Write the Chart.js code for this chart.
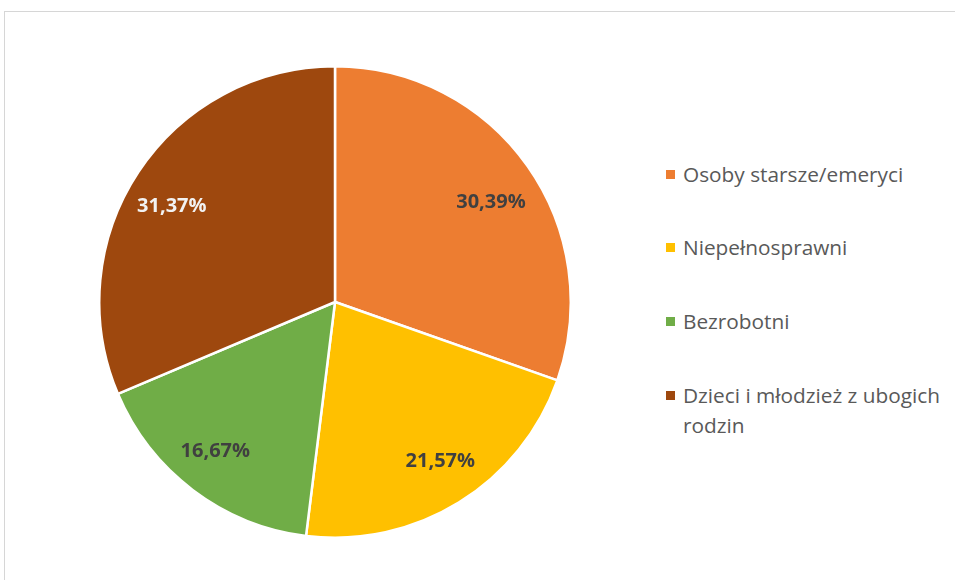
<!DOCTYPE html>
<html>
<head>
<meta charset="utf-8">
<script src="https://cdn.jsdelivr.net/npm/chart.js@4/dist/chart.umd.min.js"></script>
<style>
  html, body { margin: 0; padding: 0; background: #fff; width: 955px; height: 580px; overflow: hidden; }
  #frame { position: absolute; left: 4px; top: 11px; width: 1000px; height: 700px; border: 1.5px solid #d6d6d6; box-sizing: border-box; }
  #pieBox { position: absolute; left: 98px; top: 65px; width: 474px; height: 474px; }
  #legend { position: absolute; left: 666px; top: 0; font-family: "Open Sans", "Liberation Sans", sans-serif; font-size: 20.8px; color: #595959; }
  .item { position: absolute; left: 0; width: 289px; }
  .sw { position: absolute; left: 0; width: 9px; height: 9px; }
  .tx { position: absolute; left: 17px; line-height: 30px; white-space: nowrap; }
</style>
</head>
<body>
<div id="frame"></div>
<div id="pieBox"><canvas id="c"></canvas></div>
<div id="legend"></div>
<script>
const categories = ["Osoby starsze/emeryci", "Niepełnosprawni", "Bezrobotni", "Dzieci i młodzież z ubogich rodzin"];
const legendLines = [["Osoby starsze/emeryci"], ["Niepełnosprawni"], ["Bezrobotni"], ["Dzieci i młodzież z ubogich", "rodzin"]];
const values = [30.39, 21.57, 16.67, 31.37];
const valueLabels = ["30,39%", "21,57%", "16,67%", "31,37%"];
const colors = ["#ED7D31", "#FFC000", "#70AD47", "#9E480E"];
const labelColors = ["#404040", "#404040", "#404040", "#F2F2F2"];

const labelPlugin = {
  id: 'sliceLabels',
  afterDatasetsDraw(chart, args, opts) {
    const ctx = chart.ctx;
    const meta = chart.getDatasetMeta(0);
    ctx.save();
    ctx.font = 'bold 20px "Open Sans", "Liberation Sans", sans-serif';
    ctx.textAlign = 'center';
    ctx.textBaseline = 'middle';
    meta.data.forEach((arc, i) => {
      const p = arc.getProps(['x', 'y', 'startAngle', 'endAngle', 'outerRadius'], true);
      const a = (p.startAngle + p.endAngle) / 2;
      const r = p.outerRadius * opts.radiusFraction;
      const nudge = opts.nudge[i] || [0, 0];
      ctx.fillStyle = labelColors[i];
      ctx.fillText(valueLabels[i], p.x + Math.cos(a) * r + nudge[0], p.y + Math.sin(a) * r + nudge[1]);
    });
    ctx.restore();
  }
};

new Chart(document.getElementById('c'), {
  type: 'pie',
  data: {
    labels: categories,
    datasets: [{
      data: values,
      backgroundColor: colors,
      borderColor: '#ffffff',
      borderWidth: 2.5
    }]
  },
  options: {
    responsive: true,
    maintainAspectRatio: false,
    animation: false,
    layout: { padding: 0 },
    plugins: {
      legend: { display: false },
      tooltip: { enabled: false },
      sliceLabels: { radiusFraction: 0.8, nudge: [[2, 9], [6, -1], [-6, -1], [-6, 8.5]] }
    }
  },
  plugins: [labelPlugin]
});

// legend built from the data arrays
const legendTops = [174, 247, 321, 395];
const lg = document.getElementById('legend');
categories.forEach((c, i) => {
  const it = document.createElement('div');
  it.className = 'item';
  it.style.top = legendTops[i] + 'px';
  const sw = document.createElement('div');
  sw.className = 'sw';
  sw.style.background = colors[i];
  sw.style.top = '-4.5px';
  const tx = document.createElement('div');
  tx.className = 'tx';
  tx.style.top = '-15.5px';
  tx.innerHTML = legendLines[i].join('<br>');
  it.appendChild(sw); it.appendChild(tx);
  lg.appendChild(it);
});
</script>
</body>
</html>
